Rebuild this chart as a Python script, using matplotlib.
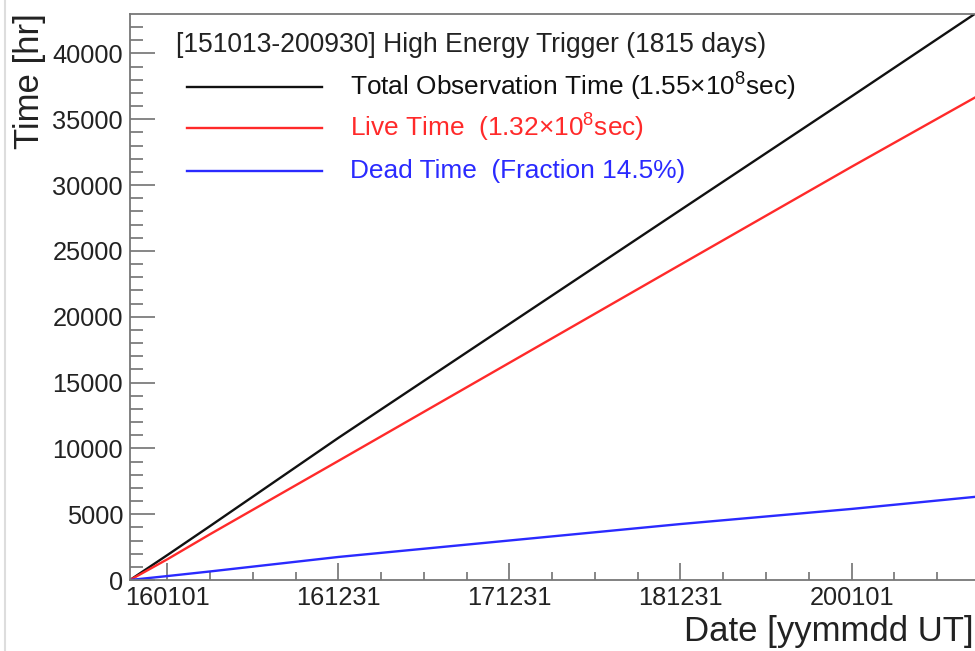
import datetime as dt
import numpy as np
import matplotlib
matplotlib.use("Agg")
import matplotlib.pyplot as plt
import matplotlib.dates as mdates
from matplotlib.lines import Line2D

plt.rcParams['font.family'] = ['Liberation Sans', 'DejaVu Sans']
plt.rcParams['mathtext.fontset'] = 'custom'
plt.rcParams['mathtext.rm'] = 'Liberation Sans'
plt.rcParams['mathtext.it'] = 'Liberation Sans:italic'

# Data (hours, cumulative)
dates = ['151013', '160101', '160401', '161231', '171231', '181231', '200101', '200930']
total_hr = [0, 1900, 4100, 10800, 19450, 28100, 36750, 43250]
live_hr = [0, 1580, 3480, 9050, 16500, 23950, 31400, 36850]
dead_hr = [0, 300, 650, 1750, 3000, 4250, 5400, 6350]

major_dates = ['160101', '161231', '171231', '181231', '200101']
header = '[151013-200930] High Energy Trigger (1815 days)'
labels = ['Total Observation Time (1.55×10$^{8}$sec)',
          'Live Time  (1.32×10$^{8}$sec)',
          'Dead Time  (Fraction 14.5%)']
colors = ['#111111', '#ff2a2a', '#2a2aff']


def to_date(s):
    return dt.datetime.strptime(s, '%y%m%d')


x = [to_date(d) for d in dates]
W, H = 975, 651
fig = plt.figure(figsize=(W / 100, H / 100), dpi=100)
ax = fig.add_axes([130 / W, (H - 580) / H, 850 / W, 566 / H])

for ys, c in zip([total_hr, live_hr, dead_hr], colors):
    ax.plot(x, ys, color=c, lw=1.7)

ax.set_xlim(to_date('151013'), to_date('200930'))
ax.set_ylim(0, 43000)

# ticks, ROOT style (inward, no ticks on top/right)
majors = mdates.date2num([to_date(d) for d in major_dates])
step = np.diff(majors).mean() / 4
minors = [m + k * step for m in majors for k in (1, 2, 3)]
ax.set_xticks(mdates.num2date(majors))
ax.set_xticks(minors, minor=True)
ax.xaxis.set_major_formatter(mdates.DateFormatter('%y%m%d'))
ax.set_yticks(np.arange(0, 43000, 5000))
ax.set_yticks(np.arange(0, 43000, 1000), minor=True)

ax.tick_params(axis='x', which='major', direction='in', length=12.2, width=1.1,
               color='#666666', labelsize=18.3, labelcolor='#222222', pad=4)
ax.tick_params(axis='x', which='minor', direction='in', length=6.1, width=1.1,
               color='#666666')
ax.tick_params(axis='y', which='major', direction='in', length=18, width=1.1,
               color='#666666', labelsize=18.3, labelcolor='#222222', pad=5)
ax.tick_params(axis='y', which='minor', direction='in', length=9, width=1.1,
               color='#666666')
for s in ax.spines.values():
    s.set_color('#777777')
    s.set_linewidth(1.3)

fig.text(30 / W, 1 - 13 / H, 'Time [hr]', rotation=90, ha='center', va='top',
         fontsize=25, color='#222222')
fig.text(974 / W, 1 - 632 / H, 'Date [yymmdd UT]', ha='right', va='center',
         fontsize=25, color='#222222')

# legend drawn by hand
ax.text(0.054, 0.945, header, transform=ax.transAxes, ha='left', va='center',
        fontsize=19.1, color='#222222')
rows = [0.871, 0.799, 0.723]
for yr, lab, c in zip(rows, labels, colors):
    ax.plot([0.067, 0.226], [yr, yr], transform=ax.transAxes, color=c, lw=1.7)
    ax.text(0.259, yr, lab, transform=ax.transAxes, ha='left', va='center',
            fontsize=18.9, color=c)

# faint canvas edge at the left
fig.add_artist(Line2D([5 / W, 5 / W], [0, 1], transform=fig.transFigure,
                      color='#dddddd', lw=1.5))

fig.savefig('out.png', dpi=100)
